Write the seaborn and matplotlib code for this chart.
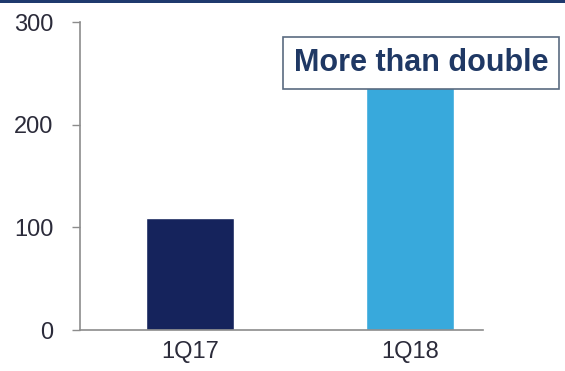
import matplotlib
matplotlib.use("Agg")
import matplotlib.pyplot as plt
import seaborn as sns
import pandas as pd
from matplotlib.patches import Rectangle

# data
quarters = ["1Q17", "1Q18"]
values = [109, 238]
bar_colors = ["#15235c", "#38a9dc"]
y_ticks = [0, 100, 200, 300]
note = "More than double"

sns.set_style("white")
plt.rcParams['font.family'] = ['Liberation Sans', 'DejaVu Sans']

df = pd.DataFrame({"quarter": quarters, "value": values})

fig = plt.figure(figsize=(5.65, 3.71), dpi=100)
ax = fig.add_axes([0.1416, 0.1105, 0.713, 0.8302])

sns.barplot(data=df, x="quarter", y="value", hue="quarter", palette=bar_colors,
            width=0.40, legend=False, saturation=1, ax=ax)

ax.set_xlim(-0.5, 1.33)
ax.set_ylim(0, 300)
ax.set_yticks(y_ticks)
ax.set_xlabel("")
ax.set_ylabel("")

for side in ["top", "right"]:
    ax.spines[side].set_visible(False)
for side in ["left", "bottom"]:
    ax.spines[side].set_color("#8c8c8c")
    ax.spines[side].set_linewidth(1.2)

ax.tick_params(axis="y", direction="out", length=6, width=1, color="#8c8c8c",
               labelsize=17, labelcolor="#2b2b3a", pad=13, left=True)
ax.tick_params(axis="x", length=0, labelsize=17, labelcolor="#2b2b3a", pad=8)

# annotation box
fig.text(0.745, 0.830, note, ha="center", va="center", fontsize=22,
         fontweight="bold", color="#1f3864",
         bbox=dict(boxstyle="square,pad=0.36", facecolor="white",
                   edgecolor="#5a6b80", linewidth=1.2))

# dark line along the top edge
fig.add_artist(Rectangle((0, 0.993), 1, 0.007, transform=fig.transFigure,
                         color="#1f3a6e", lw=0))

fig.savefig("out.png", dpi=100)
